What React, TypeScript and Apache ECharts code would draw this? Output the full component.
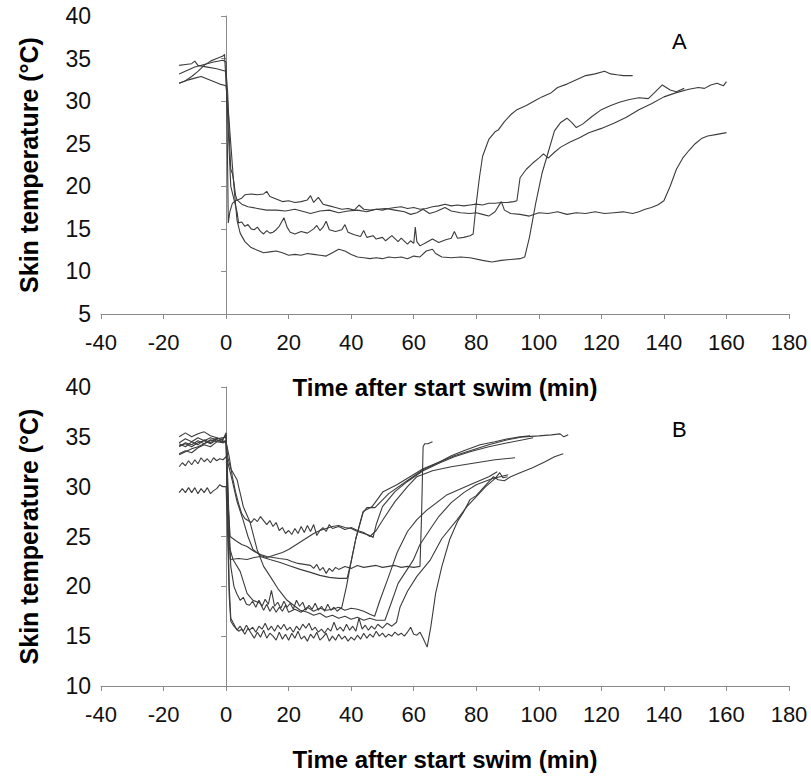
import React, { useEffect, useRef } from "react";
import * as echarts from "echarts";

// ---------- Tick settings ----------
const xTicks = { min: -40, max: 180, interval: 20 };
const yTicksA = { min: 5, max: 40, interval: 5 };
const yTicksB = { min: 10, max: 40, interval: 5 };

const xTitle = "Time after start swim (min)";
const yTitle = "Skin temperature (°C)";
const panelLabels = ["A", "B"];

// ---------- Panel A : [time (min), skin temperature (°C)] ----------
const subjA1 = [
  [-15, 32.1], [-13, 32.4], [-11, 32.9], [-9, 33.5], [-7, 34.2], [-5, 34.7], [-3, 35.0], [-1, 35.3], [-0.5, 35.5],
  [0.3, 30], [1, 24], [1.5, 20], [2.5, 18.5], [3.5, 17], [4, 15.7], [5, 15.8], [6, 15.3], [7, 15.5], [8, 15], [9, 14.9],
  [10, 15.2], [11, 14.7], [12, 14.4], [13, 14.8], [14, 14.5], [15, 14.6], [16, 14.9], [17, 15.3], [18.5, 16.3], [19.5, 15.2],
  [20.5, 14.6], [22, 14.4], [24, 14.7], [26, 14.5], [28, 15.0], [29, 15.4], [30, 14.8], [31, 15.2], [32, 15.9], [33, 14.9],
  [35, 14.7], [37, 14.9], [38, 15.5], [39, 14.6], [41, 14.3], [43, 14.1], [44, 14.8], [45, 14.0], [47, 14.2], [48, 13.8],
  [50, 14.0], [51, 13.6], [53, 14.2], [55, 13.5], [56, 13.9], [58, 13.2], [59, 13.6], [60, 13.3], [60.5, 15.2], [61, 13.5],
  [62, 13.0], [64, 13.4], [66, 13.8], [68, 13.4], [70, 13.7], [72, 13.9], [73, 14.7], [74, 13.9], [76, 14.0], [78, 14.2],
  [79, 14.4], [80, 18], [81, 21], [82, 23.5], [84, 25.5], [86, 26.4], [87, 26.6], [89, 27.6], [91, 28.4], [93, 29.0],
  [96, 29.5], [99, 30.1], [101, 30.5], [104, 31.0], [106, 31.6], [109, 32.0], [112, 32.5], [115, 33.0], [118, 33.2],
  [121, 33.5], [123, 33.2], [125, 33.1], [127, 33.0], [130, 33.0],
];
const subjA2 = [
  [-15, 32.1], [-12, 32.5], [-10, 32.7], [-8, 32.9], [-6, 32.6], [-4, 32.3], [-2, 32.0], [0, 31.8],
  [0.5, 30], [1.5, 25], [2.5, 20], [3.5, 16], [4.5, 14.5], [6, 13.5], [8, 12.8], [10, 12.5], [12, 12.2], [14, 12.3],
  [16, 12.4], [18, 12.2], [20, 11.9], [22, 12.0], [24, 11.9], [26, 12.1], [28, 12.0], [30, 11.9], [32, 11.8], [34, 12.2],
  [36, 12.6], [38, 12.4], [40, 12.0], [42, 11.7], [44, 11.6], [46, 11.5], [48, 11.6], [50, 11.5], [52, 11.7], [54, 11.6],
  [56, 11.7], [58, 11.5], [60, 11.8], [62, 11.7], [64, 12.4], [66, 12.6], [67, 12.1], [69, 11.7], [72, 11.6], [75, 11.7],
  [78, 11.6], [82, 11.3], [85, 11.1], [88, 11.3], [91, 11.4], [94, 11.5], [95.5, 11.7], [97, 14], [99, 18], [101, 21.5],
  [103, 24], [105, 26.5], [107, 27.5], [109, 28.0], [110.5, 27.5], [112, 26.9], [114, 27.3], [117, 28.2], [120, 29.0],
  [123, 29.5], [126, 29.9], [129, 30.2], [132, 30.4], [135, 30.3], [137, 31.0], [139.5, 31.9], [142, 31.3], [144, 31.1],
  [146.5, 31.5],
];
const subjA3 = [
  [-15, 33.2], [-12, 33.7], [-10, 34.0], [-7, 34.3], [-4, 34.6], [-1, 34.8], [0, 34.6],
  [0.4, 25], [0.7, 15.7], [1.2, 17], [2, 18], [3, 18.3], [5, 18.6], [6, 19.0], [8, 19.1], [10, 19.0], [12, 19.1],
  [13, 19.4], [14, 18.8], [16, 18.5], [18, 18.2], [20, 18.3], [22, 18.1], [24, 18.2], [26, 18.4], [27, 18.9], [28, 18.1],
  [29.5, 18.7], [31, 17.9], [33, 17.7], [35, 17.5], [37, 17.3], [39, 17.4], [41, 17.2], [42.5, 17.8], [44, 17.3],
  [46, 17.2], [48, 17.3], [50, 17.2], [52, 17.4], [54, 17.5], [56, 17.6], [58, 17.4], [60, 17.5], [62, 17.3], [64, 17.4],
  [66, 17.6], [68, 17.7], [70, 17.9], [72, 17.7], [74, 17.8], [76, 17.7], [78, 17.8], [80, 17.9], [82, 17.8], [84, 18.0],
  [86, 18.0], [88, 18.1], [90, 18.1], [92, 18.2], [93, 18.3], [94, 21], [96, 22], [98, 22.7], [100, 23.3], [101.5, 23.8],
  [103, 23.3], [105, 24.0], [107, 24.6], [110, 25.2], [113, 25.7], [116, 26.3], [120, 26.8], [124, 27.4], [128, 28.1],
  [132, 29.0], [136, 29.7], [140, 30.5], [144, 31.0], [148, 31.4], [151, 31.6], [153, 31.5], [155, 31.9], [157, 32.1],
  [159, 31.8], [160, 32.3],
];
const subjA4 = [
  [-15, 34.2], [-13, 34.3], [-11, 34.4], [-10, 34.7], [-9, 34.2], [-6, 34.0], [-3, 33.8], [-1, 33.6], [0, 33.5],
  [0.5, 31], [1, 26], [1.5, 22], [2, 21.5], [2.5, 20.5], [3, 19], [3.5, 18.4], [5, 17.9], [7, 17.6], [10, 17.4],
  [13, 17.2], [16, 17.2], [19, 17.1], [22, 17.3], [25, 17.0], [27, 16.8], [30, 17.1], [33, 17.2], [36, 16.9], [39, 17.1],
  [42, 17.2], [45, 17.0], [48, 17.3], [51, 17.4], [54, 17.2], [57, 17.0], [59, 16.7], [61, 16.9], [63, 17.3], [65, 16.8],
  [67, 17.0], [70, 17.5], [72, 17.1], [75, 16.9], [78, 16.8], [80, 16.9], [82, 16.7], [84, 16.5], [86, 17.0], [88, 18.2],
  [89, 17.2], [91, 16.8], [94, 16.7], [97, 16.5], [100, 16.9], [103, 16.8], [106, 17.0], [109, 16.7], [112, 16.9],
  [115, 16.8], [118, 17.0], [121, 16.8], [124, 16.9], [127, 17.0], [130, 16.8], [132, 17.0], [134, 17.3], [136, 17.5],
  [138, 17.8], [140, 18.3], [142, 20], [144, 22], [146, 23.3], [148, 24.2], [150, 25], [152, 25.6], [154, 25.9],
  [157, 26.1], [160, 26.3],
];

// ---------- Panel B ----------
const subjB1 = [
  [-15, 29.4], [-14, 29.8], [-13, 29.4], [-12, 29.9], [-11, 29.4], [-10, 29.9], [-9, 29.3], [-8, 29.8], [-7, 29.4],
  [-6, 29.9], [-5, 29.3], [-4, 29.6], [-3, 29.8], [-2, 30.2], [-1, 30.0], [0, 30.0], [0.5, 25], [1, 19], [1.5, 16.5],
  [2.5, 16.0], [4, 15.5], [5, 15.7], [6, 15.2], [7, 15.8], [8, 15.3], [9, 14.8], [10, 15.4], [11, 14.9], [12, 15.6],
  [13, 14.8], [14, 15.3], [15, 15.0], [16, 14.6], [17, 15.4], [18, 14.7], [19, 15.2], [20, 14.6], [21, 15.3], [22, 14.8],
  [23, 15.5], [24, 14.7], [25, 15.0], [26, 14.5], [27, 15.2], [28, 14.8], [29, 15.4], [30, 14.6], [31, 14.9], [32, 15.3],
  [33, 14.5], [34, 15.0], [35, 14.6], [36, 15.2], [37, 14.7], [38, 15.0], [39, 14.5], [40, 14.9], [41, 14.6], [42, 15.1],
  [43, 14.7], [44, 15.3], [45, 14.8], [46, 15.2], [47, 14.9], [48, 15.5], [49, 15.0], [50, 15.3], [51, 14.9], [52, 15.2],
  [53, 15.0], [54, 15.4], [55, 15.1], [56, 15.3], [57, 15.0], [58, 15.4], [59, 15.9], [60, 15.2], [61, 15.1], [62, 15.4],
  [63, 14.8], [64.3, 13.9], [65.5, 16], [67, 19.3], [69, 22], [71.5, 24.7], [74, 26.5], [76, 27.5], [78, 28.7], [80, 29.1],
  [82, 29.8], [85.5, 31], [87, 30.7], [89, 30.6], [91, 31], [94, 31.4], [98, 31.9], [102, 32.5], [105, 33.0], [107.8, 33.3],
];
const subjB2 = [
  [-15, 35.0], [-13, 35.4], [-11, 35.0], [-9, 35.3], [-7, 35.5], [-5, 35.1], [-3, 34.9], [-1, 34.6], [0, 34.5],
  [0.5, 28], [1, 20], [1.5, 16.8], [2.5, 16.2], [3.5, 15.6], [4.5, 16.0], [5.5, 15.5], [6.5, 16.1], [7.5, 15.6],
  [8.5, 15.9], [9.5, 15.4], [10.5, 16.0], [11.5, 15.7], [12.5, 16.3], [13.5, 15.6], [14.5, 16.0], [15.5, 15.5],
  [16.5, 16.1], [17.5, 15.7], [18.5, 16.2], [19.5, 15.6], [20.5, 15.9], [21.5, 15.4], [22.5, 16.0], [23.5, 15.6],
  [24.5, 16.2], [25.5, 15.8], [26.5, 16.3], [27.5, 15.6], [28.5, 15.9], [29.5, 15.4], [30.5, 15.7], [31.5, 15.3],
  [32.5, 15.8], [33.5, 15.5], [34.5, 16.4], [35.5, 15.6], [36.5, 15.9], [37.5, 15.5], [38.5, 16.2], [39.5, 15.6],
  [40.5, 16.0], [41.5, 15.5], [42.5, 16.8], [43.5, 15.7], [44.5, 16.1], [45.5, 15.6], [46.5, 16.0], [47.5, 15.7],
  [48.5, 16.2], [50, 15.8], [51.5, 16.3], [53, 16.0], [54.5, 16.4], [55.6, 17.9], [58, 19.5], [61, 21.0], [65.2, 22.6],
  [69, 24.8], [73.9, 26.7], [77, 28.0], [80, 29.0], [83, 30.0], [86, 30.8], [87.5, 31.4], [88.5, 30.9], [90, 31.0],
];
const subjB3 = [
  [-15, 34.1], [-13, 34.3], [-11, 34.0], [-9, 34.4], [-7, 34.6], [-5, 34.3], [-3, 34.7], [-1, 34.5], [0, 34.6],
  [0.5, 33], [1.5, 31.8], [3.5, 30.7], [5.5, 28], [7.7, 26.4], [9.9, 23.7], [12, 22], [14.1, 21], [16.5, 19.8],
  [19.5, 18.6], [22, 18.0], [23.7, 17.6], [26, 17.4], [28, 17.1], [30, 17.3], [32, 16.9], [34, 17.1], [36, 16.8],
  [38, 17.0], [40, 16.7], [42, 16.9], [44, 16.6], [46, 16.8], [48, 16.6], [50.8, 16.6], [53, 18.5], [55, 20.3],
  [59.8, 22.6], [62, 24.2], [65.2, 25.7], [68, 27.0], [72, 28.4], [76, 29.4], [80, 30.2], [85, 30.8], [90.2, 31.2],
];
const subjB4 = [
  [-15, 33.3], [-13, 33.6], [-11, 33.4], [-9, 33.9], [-7, 34.2], [-5, 34.0], [-3, 34.5], [-1, 34.8], [0, 35.2],
  [0.5, 31], [1, 26], [1.5, 22], [2.5, 20], [3.5, 19.2], [4.5, 18.6], [5.5, 18.9], [6.5, 18.2], [7.5, 18.1], [8.5, 18.5],
  [9.5, 17.9], [10.5, 18.6], [11.5, 18.0], [12.5, 18.7], [13.5, 18.2], [14.5, 19.6], [15.5, 18.0], [16.5, 18.4],
  [17.5, 17.8], [18.5, 18.5], [19.5, 17.9], [20.5, 18.3], [21.5, 17.7], [22.5, 18.6], [23.5, 18.0], [24.5, 18.4],
  [25.5, 17.6], [26.5, 18.1], [27.5, 17.7], [28.5, 18.3], [29.5, 17.6], [30.5, 18.0], [31.5, 17.5], [32.5, 18.2],
  [33.5, 17.6], [34.5, 17.9], [35.5, 17.5], [37, 17.9], [38.5, 20], [40, 22.5], [41.5, 24.8], [43.8, 27.5],
  [46.7, 28], [50.2, 29.5], [54.6, 30.2], [58.8, 31], [63, 31.8], [68.4, 32.5], [72, 33.1], [76, 33.6], [81.2, 34.2],
  [86, 34.5], [90, 34.8], [94, 35.0], [97.2, 35.1],
];
const subjB5 = [
  [-15, 34.4], [-13, 34.8], [-11, 34.5], [-9, 34.9], [-7, 34.6], [-5, 34.9], [-3, 34.7], [-1, 34.4], [0, 34.5],
  [1, 33], [2, 31], [3, 29.5], [4, 28.3], [5, 27.3], [6, 26.8], [7, 26.6], [8, 26.4], [9, 26.8], [10, 26.5], [11, 27.0],
  [12, 26.6], [13, 26.2], [14, 26.6], [15, 26.0], [16, 26.4], [17, 25.6], [18, 25.9], [19, 25.3], [20, 25.6], [21, 25.2],
  [22, 25.8], [23, 25.3], [24, 26.0], [25, 25.4], [26, 26.1], [27, 25.5], [28, 26.2], [29, 25.1], [30, 25.6], [31, 25.9],
  [32, 25.5], [33, 26.2], [34, 25.8], [36, 26.0], [38, 25.7], [40, 25.9], [42, 25.6], [44, 25.4], [46, 25.0], [48, 25.6],
  [50.2, 26.7], [54, 28.5], [58, 30.0], [61, 31.0], [66, 31.6], [72, 32.0], [80, 32.4], [86, 32.7], [92.4, 32.9],
];
const subjB6 = [
  [-15, 32.0], [-14, 32.4], [-13, 32.1], [-12, 32.6], [-11, 32.2], [-10, 32.7], [-9, 32.3], [-8, 32.9], [-7, 32.5],
  [-6, 32.8], [-5, 32.4], [-4, 32.9], [-3, 32.6], [-2, 32.8], [-1, 32.7], [0, 33.0], [0.5, 32.5], [1.9, 30.7],
  [3.5, 28.5], [5.4, 26.7], [7, 25], [8.6, 23.7], [11, 23.1], [13, 22.9], [16, 23.2], [18, 23.4], [20, 23.7], [22, 24.1],
  [24, 24.5], [26, 24.9], [28, 25.3], [30, 25.6], [32, 25.8], [34, 26.0], [36, 26.1], [38, 25.9], [40, 25.8], [42, 25.5],
  [44, 25.3], [46, 25.1], [47, 24.9], [48, 26.2], [50, 28], [54, 29.5], [57.9, 30.5], [63, 31.6], [68.4, 32.4],
  [73, 33.0], [78, 33.5], [84, 34.0], [90, 34.4], [95, 34.7], [98.2, 34.9],
];
const subjB7 = [
  [-15, 34.0], [-13, 34.4], [-11, 34.2], [-9, 34.6], [-7, 34.3], [-5, 34.7], [-3, 34.5], [-1, 34.4], [0, 34.6],
  [0.5, 29], [1.3, 25], [3, 24.6], [5, 24.2], [6.7, 24], [9, 23.5], [11, 23.2], [13, 23.0], [15, 22.9], [17, 22.8],
  [19.5, 22.7], [21, 22.5], [23, 22.3], [25, 22.2], [27, 22.1], [28, 21.8], [29, 22.2], [30, 21.6], [31, 21.9],
  [32, 21.3], [33, 21.8], [34, 21.5], [35, 21.9], [36, 21.7], [38, 22.0], [40, 21.8], [42, 22.1], [44, 21.9], [46, 22.0],
  [48, 22.1], [50, 21.9], [52, 22.0], [54, 22.1], [56, 21.9], [58, 22.0], [60, 21.9], [62, 22.0], [62.5, 27], [63, 34.0],
  [63.5, 34.3], [64.5, 34.3], [66, 34.5],
];
const subjB8 = [
  [-15, 33.2], [-13, 33.5], [-11, 33.8], [-9, 34.0], [-7, 34.3], [-5, 34.6], [-3, 34.8], [-1, 34.9], [0, 35.0],
  [0.5, 30], [1, 25], [1.3, 22.7], [4, 22.8], [6.7, 22.7], [9, 22.9], [10.9, 23.0], [14, 22.7], [17.3, 22.4],
  [20, 22.1], [23.7, 21.7], [27, 21.4], [30, 21.1], [33, 20.9], [36, 20.8], [38.7, 20.8], [40, 22.5], [41.5, 24.8],
  [43.8, 27.4], [45, 27.9], [47.6, 27.9], [52, 29.3], [57.9, 30.6], [63, 31.7], [68.4, 32.5], [73, 33.1], [78, 33.6],
  [84, 34.2], [90, 34.7], [95, 35.0], [100, 35.1], [104, 35.2], [106.8, 35.3], [108, 35.0], [109.4, 35.2],
];
const subjB9 = [
  [-15, 34.3], [-13, 34.0], [-11, 34.5], [-9, 34.2], [-7, 34.7], [-5, 34.4], [-3, 34.9], [-1, 34.7], [0, 35.4],
  [0.3, 28], [1, 24], [2.2, 22.7], [4.5, 21.5], [6.7, 19.3], [8.6, 18.6], [10.9, 18.3], [12, 17.6], [13, 18.2],
  [14, 17.5], [15, 18.0], [16, 17.4], [17, 17.9], [18, 17.5], [19, 18.1], [20, 17.4], [22, 17.7], [24, 17.4], [26, 17.9],
  [28, 17.5], [30, 17.8], [32, 17.6], [34, 17.7], [36, 17.9], [38, 17.6], [40, 17.8], [42, 17.7], [44, 17.5], [46, 17.2],
  [47.5, 17.0], [49.2, 18.6], [52, 21], [54.7, 23.4], [58, 25.5], [61, 26.7], [64, 27.6], [70.7, 29.2], [78, 30.2],
  [84, 31.0], [86.7, 31.5],
];

const panelA = [subjA1, subjA2, subjA3, subjA4];
const panelB = [subjB1, subjB2, subjB3, subjB4, subjB5, subjB6, subjB7, subjB8, subjB9];

const FONT = "'Liberation Sans', Arial, sans-serif";
const AXIS_GRAY = "#8a8a8a";
const LINE_COLOR = "#3c3c3c";

function makeXAxis(gridIndex: number) {
  return {
    type: "value",
    gridIndex,
    min: xTicks.min,
    max: xTicks.max,
    interval: xTicks.interval,
    name: xTitle,
    nameLocation: "middle",
    nameGap: 61,
    nameTextStyle: { fontFamily: FONT, fontSize: 24, fontWeight: "bold", color: "#000" },
    axisLine: { show: true, onZero: false, lineStyle: { color: AXIS_GRAY, width: 1 } },
    axisTick: { show: true, inside: false, length: 5, lineStyle: { color: AXIS_GRAY } },
    axisLabel: { fontFamily: FONT, fontSize: 22, color: "#111", margin: 17 },
    splitLine: { show: false },
  };
}

function makeYAxis(gridIndex: number, t: { min: number; max: number; interval: number }) {
  return {
    type: "value",
    gridIndex,
    min: t.min,
    max: t.max,
    interval: t.interval,
    name: yTitle,
    nameLocation: "middle",
    nameGap: 60,
    nameTextStyle: { fontFamily: FONT, fontSize: 25, fontWeight: "bold", color: "#000" },
    axisLine: { show: true, lineStyle: { color: AXIS_GRAY, width: 1 } },
    axisTick: { show: true, inside: false, length: 5, lineStyle: { color: AXIS_GRAY } },
    axisLabel: { fontFamily: FONT, fontSize: 23, color: "#111", margin: 10 },
    splitLine: { show: false },
  };
}

function makeSeries(data: number[][], idx: number) {
  return {
    type: "line",
    xAxisIndex: idx,
    yAxisIndex: idx,
    data,
    showSymbol: false,
    symbol: "none",
    lineStyle: { color: LINE_COLOR, width: 1.1 },
    silent: true,
  };
}

export default function App() {
  const ref = useRef<HTMLDivElement>(null);
  useEffect(() => {
    if (!ref.current) return;
    const chart = echarts.init(ref.current, undefined, { renderer: "svg" });
    chart.setOption({
      animation: false,
      backgroundColor: "#fff",
      grid: [
        { left: 101, top: 16, width: 688, height: 298 },
        { left: 101, top: 387, width: 688, height: 299 },
      ],
      xAxis: [makeXAxis(0), makeXAxis(1)],
      yAxis: [makeYAxis(0, yTicksA), makeYAxis(1, yTicksB)],
      series: [
        ...panelA.map((d) => makeSeries(d, 0)),
        ...panelB.map((d) => makeSeries(d, 1)),
      ],
      graphic: [
        { type: "text", left: 672, top: 30, style: { text: panelLabels[0], fontFamily: FONT, fontSize: 22, fill: "#000" } },
        { type: "text", left: 672, top: 418, style: { text: panelLabels[1], fontFamily: FONT, fontSize: 22, fill: "#000" } },
      ],
    });
    return () => chart.dispose();
  }, []);
  return (
    <div
      ref={ref}
      style={{ position: "absolute", left: 0, top: 0, width: 811, height: 776, background: "#fff" }}
    />
  );
}
